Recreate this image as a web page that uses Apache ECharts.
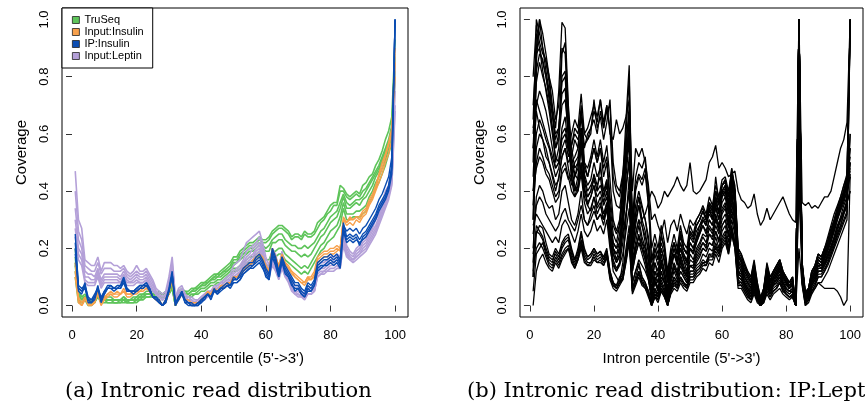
<!DOCTYPE html>
<html>
<head>
<meta charset="utf-8">
<script src="https://cdn.jsdelivr.net/npm/echarts@6/dist/echarts.min.js"></script>
<style>
html,body{margin:0;padding:0;background:#fff;}
#chart{width:865px;height:419px;}
</style>
</head>
<body>
<div id="chart"></div>
<script>
// ---- x categories (intron percentile) ----
const percentiles = [1,2,3,4,5,6,7,8,9,10,11,12,13,14,15,16,17,18,19,20,21,22,23,24,25,26,27,28,29,30,31,32,33,34,35,36,37,38,39,40,41,42,43,44,45,46,47,48,49,50,51,52,53,54,55,56,57,58,59,60,61,62,63,64,65,66,67,68,69,70,71,72,73,74,75,76,77,78,79,80,81,82,83,84,85,86,87,88,89,90,91,92,93,94,95,96,97,98,99,100];
const xTicks = [0,20,40,60,80,100];
const yTicks = [0,0.2,0.4,0.6,0.8,1.0];

// ---- panel (a): TruSeq ----
const truseq1 = [.2,.05,.03,.04,.02,.02,.02,.05,.02,.03, .03,.03,.02,.02,.02,.03,.02,.02,.03,.03, .04,.04,.05,.05,.05,.04,.05,.04,.05,.06, .08,.01,.05,.06,.05,.05,.06,.06,.07,.08, .08,.09,.1,.11,.11,.12,.13,.14,.15,.17, .17,.19,.2,.21,.22,.22,.23,.24,.23,.23, .24,.26,.27,.28,.28,.27,.26,.24,.25,.25, .24,.26,.25,.25,.26,.29,.3,.31,.33,.35, .36,.36,.42,.41,.39,.38,.39,.4,.39,.42, .43,.45,.46,.49,.51,.54,.58,.61,.66,.93];
const truseq2 = [.17,.04,.03,.03,.02,.01,.02,.05,.02,.03, .02,.02,.02,.02,.02,.03,.02,.02,.02,.03, .03,.04,.04,.04,.05,.04,.04,.04,.04,.05, .07,.01,.04,.05,.05,.04,.05,.06,.06,.07, .08,.08,.09,.1,.11,.11,.12,.13,.14,.16, .16,.18,.19,.2,.21,.21,.22,.23,.22,.22, .23,.25,.26,.27,.27,.26,.25,.23,.24,.24, .23,.25,.24,.24,.25,.27,.29,.3,.32,.33, .35,.35,.4,.4,.38,.37,.38,.39,.38,.4, .41,.43,.45,.47,.49,.52,.55,.58,.63,.88];
const truseq3 = [.15,.04,.02,.03,.02,.01,.02,.05,.02,.02, .02,.02,.02,.02,.02,.02,.02,.02,.02,.02, .03,.03,.04,.04,.04,.04,.04,.04,.04,.05, .07,.01,.04,.05,.04,.04,.05,.05,.06,.07, .07,.08,.09,.1,.1,.11,.12,.12,.13,.15, .15,.17,.18,.19,.2,.2,.21,.22,.21,.2, .21,.23,.24,.25,.25,.23,.22,.21,.21,.2, .2,.21,.2,.21,.22,.24,.26,.27,.29,.31, .32,.33,.36,.39,.36,.35,.36,.37,.37,.38, .4,.42,.44,.46,.48,.51,.54,.57,.62,.87];
const truseq4 = [.14,.03,.02,.03,.01,.01,.02,.04,.01,.02, .02,.02,.01,.01,.02,.02,.01,.02,.02,.02, .03,.03,.04,.04,.04,.04,.04,.03,.04,.05, .07,0,.04,.05,.04,.04,.05,.05,.06,.07, .07,.08,.09,.09,.1,.1,.11,.12,.13,.14, .15,.16,.17,.18,.19,.19,.2,.21,.2,.19, .19,.22,.22,.23,.23,.21,.2,.19,.19,.18, .17,.18,.17,.18,.2,.22,.24,.25,.27,.29, .3,.31,.34,.38,.34,.34,.35,.36,.35,.37, .38,.4,.42,.45,.47,.5,.53,.56,.61,.85];
const truseq5 = [.12,.02,.01,.02,.01,.01,.01,.04,.01,.02, .01,.01,.01,.01,.01,.02,.01,.01,.01,.02, .02,.03,.03,.03,.04,.03,.03,.03,.03,.04, .06,0,.03,.04,.03,.03,.04,.04,.05,.06, .06,.07,.08,.08,.09,.09,.1,.11,.12,.13, .13,.14,.15,.16,.17,.17,.18,.19,.17,.16, .16,.19,.19,.2,.2,.18,.17,.16,.15,.14, .13,.14,.13,.15,.17,.19,.21,.22,.24,.26, .27,.28,.31,.36,.32,.32,.32,.33,.33,.34, .35,.38,.4,.43,.45,.48,.51,.55,.59,.82];
const truseq6 = [.1,.01,.01,.02,0,0,.01,.03,.01,.01, .01,.01,.01,.01,.01,.01,.01,.01,.01,.01, .02,.02,.03,.03,.03,.03,.03,.02,.03,.04, .06,0,.03,.04,.03,.03,.03,.04,.04,.05, .05,.06,.07,.07,.08,.08,.09,.1,.11,.12, .12,.13,.14,.15,.15,.16,.17,.17,.16,.14, .14,.17,.17,.18,.18,.16,.15,.14,.13,.12, .11,.12,.11,.13,.15,.17,.19,.2,.22,.23, .24,.26,.28,.34,.3,.3,.31,.31,.31,.32, .33,.36,.38,.41,.43,.46,.49,.53,.57,.8];

// ---- panel (a): Input:Leptin ----
const leptin1 = [.47,.3,.27,.16,.15,.14,.14,.17,.12,.15, .15,.15,.14,.14,.13,.14,.12,.11,.12,.14, .12,.12,.13,.11,.09,.06,.05,.04,.05,.1, .17,.03,.06,.07,.04,.03,.03,.02,.02,.03, .04,.05,.05,.07,.07,.08,.09,.1,.11,.14, .15,.16,.19,.22,.23,.24,.25,.26,.22,.17, .14,.2,.18,.13,.19,.14,.12,.09,.07,.07, .05,.04,.06,.06,.07,.14,.15,.15,.16,.17, .17,.18,.17,.27,.21,.19,.18,.2,.21,.23, .24,.26,.28,.31,.34,.36,.4,.42,.48,.9];
const leptin2 = [.4,.26,.23,.14,.13,.12,.12,.15,.11,.13, .13,.13,.12,.12,.12,.13,.11,.1,.11,.12, .11,.11,.12,.1,.08,.05,.04,.03,.04,.09, .15,.02,.05,.06,.03,.03,.02,.01,.02,.03, .04,.05,.05,.06,.07,.08,.08,.09,.1,.12, .13,.14,.16,.19,.2,.21,.22,.24,.2,.15, .13,.18,.16,.12,.17,.13,.11,.08,.06,.06, .04,.04,.05,.05,.06,.13,.14,.14,.15,.16, .16,.17,.16,.25,.2,.18,.17,.19,.2,.22, .23,.25,.27,.3,.32,.35,.38,.41,.46,.85];
const leptin3 = [.34,.23,.2,.12,.11,.11,.1,.13,.09,.11, .11,.11,.11,.11,.1,.12,.1,.09,.1,.11, .1,.1,.11,.09,.07,.05,.04,.03,.04,.08, .14,.02,.05,.05,.03,.02,.02,.01,.01,.02, .03,.04,.05,.06,.06,.07,.08,.09,.09,.11, .12,.13,.15,.17,.18,.2,.21,.22,.19,.14, .12,.17,.15,.11,.16,.12,.1,.07,.05,.05, .04,.03,.04,.04,.05,.12,.13,.13,.14,.15, .15,.16,.15,.24,.19,.17,.16,.18,.19,.21, .22,.24,.26,.28,.31,.34,.37,.4,.45,.8];
const leptin4 = [.3,.2,.18,.1,.1,.09,.09,.12,.08,.1, .1,.1,.1,.1,.09,.11,.09,.08,.09,.1, .09,.09,.1,.08,.06,.04,.03,.02,.03,.07, .13,.01,.04,.05,.03,.02,.01,.01,.01,.02, .03,.04,.04,.05,.06,.07,.07,.08,.09,.1, .11,.12,.14,.16,.17,.18,.2,.21,.18,.13, .11,.16,.14,.1,.15,.11,.09,.06,.05,.04, .03,.03,.04,.04,.05,.11,.12,.12,.13,.14, .14,.15,.14,.23,.18,.17,.16,.17,.18,.2, .21,.23,.25,.27,.3,.33,.36,.39,.44,.75];
const leptin5 = [.27,.18,.16,.09,.08,.08,.08,.11,.07,.09, .09,.09,.09,.09,.08,.1,.08,.08,.08,.09, .08,.08,.09,.07,.05,.04,.03,.02,.03,.06, .12,.01,.04,.04,.02,.02,.01,.01,.01,.02, .03,.04,.04,.05,.05,.06,.07,.08,.08,.1, .1,.12,.13,.15,.16,.17,.19,.2,.17,.13, .11,.15,.13,.1,.14,.1,.09,.06,.04,.04, .03,.03,.04,.04,.05,.1,.11,.12,.12,.13, .13,.14,.13,.22,.18,.16,.16,.17,.18,.19, .2,.22,.24,.26,.29,.32,.35,.38,.43,.7];
const leptin6 = [.24,.16,.14,.08,.07,.07,.07,.1,.06,.08, .08,.08,.08,.08,.08,.09,.07,.07,.07,.08, .08,.08,.09,.07,.05,.04,.03,.02,.03,.06, .11,.01,.03,.04,.02,.01,.01,0,.01,.02, .02,.03,.04,.05,.05,.06,.06,.07,.08,.09, .1,.11,.13,.14,.15,.16,.18,.19,.16,.12, .1,.14,.12,.09,.13,.1,.08,.05,.04,.03, .03,.02,.04,.04,.05,.1,.11,.11,.12,.12, .12,.13,.13,.21,.17,.16,.15,.16,.17,.18, .19,.21,.23,.25,.28,.31,.34,.37,.42,.68];

// ---- panel (a): Input:Insulin ----
const inputIns1 = [.12,.02,0,.02,.01,0,.01,.05,.01,.02, .04,.05,.04,.04,.04,.05,.04,.04,.05,.05, .05,.06,.07,.05,.03,.02,.02,0,.02,.05, .1,0,.02,.04,.02,.02,.01,.01,.01,.02, .03,.05,.04,.06,.05,.06,.07,.08,.08,.1, .1,.11,.13,.14,.15,.15,.17,.18,.17,.14, .12,.2,.17,.14,.18,.15,.14,.12,.11,.1, .09,.08,.1,.09,.11,.16,.17,.18,.18,.19, .19,.2,.19,.31,.29,.3,.3,.31,.3,.32, .33,.36,.38,.41,.45,.48,.52,.56,.6,.85];
const inputIns2 = [.15,.03,.01,.03,0,0,.01,.04,0,.02, .03,.04,.03,.03,.04,.05,.03,.03,.04,.04, .05,.05,.06,.05,.03,.02,.01,0,.01,.04, .09,.01,.02,.04,.02,.01,.01,0,.01,.02, .03,.04,.04,.05,.05,.06,.06,.07,.08,.09, .1,.1,.12,.13,.14,.15,.16,.17,.16,.13, .11,.19,.16,.13,.17,.14,.13,.11,.1,.09, .08,.07,.09,.09,.1,.15,.16,.17,.17,.18, .18,.19,.2,.3,.28,.29,.28,.3,.29,.31, .32,.35,.37,.4,.43,.46,.5,.53,.58,.9];
const inputIns3 = [.1,.01,0,.02,.01,0,.02,.05,.01,.03, .04,.04,.04,.05,.04,.06,.04,.04,.04,.05, .06,.06,.07,.05,.03,.02,.02,0,.02,.05, .1,0,.03,.04,.02,.01,.01,0,.01,.02, .03,.04,.04,.06,.05,.07,.07,.08,.08,.1, .1,.11,.12,.14,.14,.16,.17,.18,.16,.14, .12,.2,.17,.14,.17,.15,.13,.12,.1,.09, .08,.08,.1,.1,.12,.17,.18,.19,.19,.2, .2,.21,.2,.3,.29,.31,.3,.31,.31,.33, .34,.37,.39,.42,.46,.5,.53,.57,.62,.8];

// ---- panel (a): IP:Insulin ----
const ipIns1 = [.25,.06,.05,.08,.02,.01,.03,.07,.02,.05, .07,.07,.06,.07,.07,.1,.06,.05,.05,.06, .07,.07,.08,.06,.03,.03,.02,0,.02,.06, .12,0,.03,.05,.02,.01,.01,0,0,.02, .03,.04,.03,.06,.04,.06,.06,.07,.07,.09, .09,.1,.12,.13,.14,.14,.16,.17,.15,.12, .1,.19,.16,.11,.17,.13,.11,.09,.07,.07, .05,.04,.07,.06,.08,.14,.15,.16,.16,.17, .16,.17,.15,.29,.24,.25,.24,.25,.23,.25, .26,.28,.3,.32,.35,.37,.39,.42,.49,1];
const ipIns2 = [.22,.07,.06,.07,.03,.02,.04,.06,.03,.05, .06,.06,.06,.06,.06,.08,.05,.05,.05,.05, .06,.07,.07,.05,.03,.02,.01,0,.02,.05, .1,.01,.03,.04,.02,.01,0,0,.01,.02, .03,.04,.03,.05,.05,.06,.06,.07,.07,.08, .08,.09,.11,.12,.13,.13,.14,.15,.13,.11, .09,.17,.14,.1,.15,.11,.1,.07,.06,.06, .04,.03,.06,.05,.07,.12,.13,.14,.14,.15, .14,.15,.13,.26,.22,.23,.22,.23,.22,.23, .24,.26,.28,.3,.33,.35,.37,.4,.46,1];
const ipIns3 = [.2,.05,.04,.07,.01,.01,.02,.06,.01,.04, .06,.07,.06,.06,.07,.09,.06,.05,.05,.06, .07,.07,.08,.06,.03,.03,.01,0,.01,.05, .11,0,.02,.05,.01,.01,0,0,0,.01, .03,.04,.03,.05,.05,.06,.07,.08,.07,.1, .09,.11,.13,.14,.15,.15,.17,.18,.16,.13, .11,.2,.17,.12,.17,.14,.12,.1,.08,.08, .06,.05,.08,.07,.09,.15,.16,.17,.17,.18, .17,.18,.16,.28,.26,.27,.26,.27,.25,.27, .28,.3,.32,.34,.37,.39,.42,.45,.52,1];
const ipIns4 = [.18,.06,.05,.06,.02,.02,.03,.06,.02,.04, .06,.06,.05,.06,.06,.09,.05,.05,.04,.05, .06,.06,.07,.06,.03,.02,.01,0,.01,.05, .11,.01,.02,.04,.01,0,0,0,.01,.01, .02,.04,.02,.05,.04,.05,.06,.07,.06,.08, .08,.09,.11,.12,.13,.14,.15,.16,.14,.1, .09,.18,.15,.1,.16,.12,.1,.08,.05,.06, .04,.03,.05,.05,.07,.13,.14,.14,.15,.16, .15,.16,.14,.27,.23,.24,.23,.24,.21,.24, .25,.27,.29,.31,.34,.36,.38,.41,.48,1];

// ---- panel (b): IP:Leptin samples ----
const ipLep1 = [.5,.9,1,.95,.88,.8,.7,.62,.75,.99, .97,.7,.55,.48,.5,.62,.45,.4,.42,.45, .4,.5,.38,.42,.3,.22,.2,.25,.4,.6, .8,.2,.3,.35,.28,.22,.15,.05,.12,.08, .15,.1,.04,.12,.18,.14,.2,.16,.12,.2, .18,.22,.25,.28,.26,.3,.28,.35,.3,.38, .4,.32,.44,.36,.15,.14,.1,.08,.06,.12, .05,0,.04,.1,.06,.1,.12,.14,.1,.08, .06,.08,0,.55,.15,.02,.04,.1,.12,.16, .15,.18,.2,.24,.28,.32,.35,.38,.42,.45];
const ipLep2 = [.3,1,.95,.9,.85,.78,.68,.55,.6,.8, .82,.62,.48,.42,.4,.48,.38,.35,.33,.38, .32,.35,.3,.36,.26,.18,.15,.17,.3,.55, .7,.15,.2,.25,.2,.18,.1,.03,.08,.05, .1,.08,.02,.1,.14,.1,.16,.12,.1,.14, .14,.18,.2,.22,.2,.25,.24,.3,.26,.32, .34,.28,.38,.3,.12,.12,.08,.06,.05,.08, .04,0,.03,.08,.05,.08,.1,.12,.08,.06, .05,.06,0,1,.12,.02,.03,.08,.1,.14, .13,.15,.18,.2,.24,.28,.3,.33,.36,.4];
const ipLep3 = [.8,.98,.92,.88,.86,.8,.75,.65,.7,.9, .88,.65,.5,.52,.55,.7,.5,.45,.5,.55, .5,.55,.45,.5,.35,.25,.22,.28,.45,.65, .84,.25,.32,.38,.3,.26,.18,.08,.15,.1, .18,.12,.05,.15,.2,.16,.22,.18,.15,.22, .2,.24,.28,.3,.28,.34,.3,.38,.32,.4, .42,.34,.46,.38,.18,.15,.12,.1,.08,.14, .06,.02,.05,.14,.08,.12,.14,.16,.12,.1, .08,.1,0,.45,.14,.04,.06,.12,.14,.18, .17,.2,.24,.28,.32,.35,.38,.42,.45,1];
const ipLep4 = [.6,.78,.85,.8,.76,.7,.62,.55,.58,.7, .72,.6,.5,.45,.48,.58,.46,.42,.44,.5, .45,.48,.4,.44,.32,.2,.18,.22,.35,.5, .62,.18,.25,.3,.24,.2,.12,.04,.1,.06, .12,.08,.03,.1,.15,.12,.18,.14,.11,.18, .16,.2,.22,.25,.24,.28,.26,.32,.28,.34, .36,.3,.4,.32,.14,.12,.09,.07,.05,.1, .04,.01,.04,.1,.06,.09,.1,.13,.09,.07, .06,.07,0,1,.13,.03,.04,.09,.11,.15, .14,.17,.2,.23,.26,.3,.33,.36,.4,.6];
const ipLep5 = [.7,.88,.9,.82,.75,.68,.6,.52,.5,.62, .66,.55,.48,.4,.42,.5,.4,.36,.38,.42, .38,.4,.35,.38,.28,.18,.15,.18,.3,.45, .58,.14,.2,.24,.2,.16,.1,.02,.06,.03, .08,.05,.01,.07,.1,.08,.12,.1,.08,.12, .12,.15,.17,.2,.19,.22,.21,.26,.23,.28, .3,.25,.34,.27,.1,.09,.07,.05,.03,.07, .03,0,.02,.07,.04,.07,.08,.1,.07,.05, .04,.05,0,1,.1,.01,.02,.07,.09,.12, .12,.14,.16,.19,.22,.25,.28,.32,.35,.5];
const ipLep6 = [.4,.6,.65,.62,.58,.55,.5,.45,.48,.55, .58,.52,.56,.6,.58,.62,.55,.6,.62,.65, .6,.68,.62,.7,.6,.58,.65,.6,.62,.66, .72,.4,.55,.52,.55,.5,.42,.3,.32,.28, .25,.3,.22,.28,.3,.26,.32,.28,.25,.3, .28,.3,.32,.34,.3,.36,.34,.38,.35,.4, .42,.36,.48,.4,.2,.18,.14,.12,.1,.16, .08,.03,.06,.15,.1,.12,.14,.16,.12,.1, .08,.1,0,.5,.15,.05,.06,.12,.14,.18, .17,.2,.22,.26,.3,.34,.37,.4,.44,1];
const ipLep7 = [.35,.5,.55,.52,.48,.46,.42,.38,.4,.48, .5,.45,.4,.38,.42,.5,.4,.38,.4,.44, .4,.42,.38,.44,.3,.22,.2,.22,.3,.42, .5,.2,.25,.3,.28,.24,.2,.08,.15,.12, .2,.15,.08,.18,.22,.18,.25,.2,.18,.26, .24,.28,.3,.33,.3,.35,.33,.4,.36,.42, .44,.38,.48,.4,.18,.16,.12,.1,.08,.12, .06,.01,.05,.12,.08,.1,.12,.14,.11,.09, .07,.08,0,1,.14,.03,.05,.1,.12,.16, .15,.18,.21,.24,.28,.32,.35,.38,.42,.5];
const ipLep8 = [.2,.38,.42,.4,.36,.34,.35,.3,.32,.4, .42,.36,.3,.28,.32,.4,.3,.28,.32,.35, .3,.32,.28,.34,.22,.15,.12,.15,.22,.32, .4,.12,.18,.22,.2,.16,.12,.04,.1,.08, .14,.1,.04,.14,.18,.15,.2,.16,.14,.2, .18,.22,.25,.28,.25,.3,.28,.34,.3,.36, .38,.32,.42,.35,.15,.13,.1,.08,.06,.1, .04,0,.04,.1,.07,.09,.11,.13,.1,.08, .06,.07,0,1,.12,.02,.04,.09,.11,.14, .14,.17,.2,.23,.27,.31,.34,.37,.4,.45];
const ipLep9 = [.1,.25,.28,.27,.22,.18,.17,.2,.18,.22, .24,.25,.2,.16,.2,.26,.2,.17,.18,.2, .18,.19,.17,.2,.12,.08,.07,.1,.12,.2, .28,.06,.1,.14,.1,.08,.05,.01,.05,.03, .07,.05,.01,.06,.1,.08,.12,.1,.08,.12, .12,.14,.15,.18,.17,.2,.19,.24,.2,.26, .28,.22,.3,.25,.1,.09,.07,.05,.03,.07, .03,0,.02,.07,.05,.07,.08,.1,.07,.05, .04,.05,0,1,.1,.01,.02,.07,.09,.12, .12,.14,.17,.2,.23,.26,.3,.33,.36,.4];
const ipLep10 = [.05,.18,.2,.22,.18,.15,.14,.17,.15,.18, .2,.21,.17,.14,.17,.22,.17,.15,.15,.18, .16,.17,.15,.18,.1,.07,.06,.08,.1,.18, .25,.05,.08,.12,.08,.07,.04,0,.04,.02, .06,.04,0,.05,.08,.07,.1,.08,.07,.1, .1,.12,.13,.15,.15,.18,.17,.21,.18,.23, .25,.2,.27,.22,.08,.08,.06,.04,.02,.06, .02,0,.02,.06,.04,.06,.07,.09,.06,.04, .03,.04,0,1,.09,.01,.02,.06,.08,.11, .11,.13,.15,.18,.21,.24,.27,.3,.33,.98];
const ipLep11 = [0,.12,.16,.18,.15,.13,.12,.15,.13,.16, .18,.2,.15,.13,.16,.2,.15,.14,.14,.16, .15,.15,.14,.17,.09,.06,.05,.07,.09,.15, .22,.04,.07,.1,.07,.06,.03,0,.03,.02, .05,.03,0,.05,.07,.06,.09,.07,.06,.09, .09,.11,.12,.14,.14,.16,.16,.19,.17,.21, .23,.18,.25,.2,.07,.07,.05,.03,.02,.05, .02,0,.02,.05,.03,.05,.06,.08,.05,.04, .03,.03,0,1,.08,0,.02,.05,.07,.1, .1,.12,.14,.17,.2,.23,.26,.29,.32,1];
const ipLep12 = [.25,.35,.38,.36,.32,.3,.28,.26,.28,.32, .34,.3,.28,.26,.3,.35,.3,.28,.3,.33, .3,.32,.3,.34,.26,.2,.18,.2,.25,.32, .4,.2,.28,.35,.3,.32,.36,.4,.38,.34, .36,.4,.38,.4,.42,.45,.42,.4,.42,.5, .4,.39,.4,.42,.44,.5,.52,.56,.48,.5, .48,.45,.46,.47,.4,.37,.36,.34,.35,.39, .32,.28,.3,.34,.3,.32,.34,.36,.38,.35, .32,.3,.29,1,.36,.35,.36,.34,.35,.34, .36,.38,.38,.4,.45,.5,.55,.58,.64,1];
const ipLep13 = [.15,.28,.26,.24,.2,.17,.16,.18,.16,.2, .22,.23,.18,.15,.18,.23,.18,.16,.17,.19, .17,.18,.16,.19,.11,.08,.07,.09,.11,.18, .25,.06,.09,.12,.09,.07,.05,.01,.04,.03, .06,.04,.01,.06,.09,.07,.1,.08,.07,.11, .11,.13,.14,.16,.15,.18,.18,.22,.19,.24, .26,.2,.28,.22,.09,.08,.06,.04,.02,.05, .02,0,.02,.06,.04,.05,.06,.08,.06,.04, .03,.04,0,1,.08,.01,.02,.05,.06,.08, .07,.06,.06,.06,.06,.05,.03,0,.02,.46];
const ipLep14 = [.45,.7,.75,.72,.68,.62,.55,.48,.5,.6, .62,.55,.6,.65,.62,.74,.6,.58,.62,.68, .64,.72,.62,.68,.7,.45,.4,.38,.45,.55, .6,.3,.45,.5,.48,.52,.4,.2,.25,.2, .28,.22,.12,.2,.25,.2,.28,.22,.2,.28, .25,.3,.32,.35,.32,.38,.35,.42,.38,.44, .45,.4,.47,.42,.2,.18,.15,.12,.1,.15, .08,.02,.06,.14,.1,.12,.14,.16,.12,.1, .08,.1,0,1,.15,.04,.06,.12,.14,.18, .17,.2,.23,.27,.3,.34,.38,.42,.46,.55];
const ipLep15 = [.1,.85,1,.9,.82,.75,.68,.58,.62,.78, .8,.6,.45,.4,.45,.55,.42,.35,.38,.42, .35,.38,.32,.36,.22,.12,.1,.08,.15,.3, .45,.08,.12,.15,.1,.08,.05,0,.03,.01, .05,.03,0,.04,.06,.05,.08,.06,.05,.08, .08,.1,.11,.13,.12,.15,.14,.18,.15,.2, .22,.18,.25,.2,.06,.06,.04,.02,.01,.04, .01,0,.01,.04,.02,.04,.05,.06,.04,.03, .02,.03,0,.2,.07,0,.01,.04,.06,.08, .08,.1,.12,.15,.18,.21,.24,.27,.3,1];
const ipLep16 = [.55,.68,.62,.58,.55,.5,.45,.4,.45,.52, .55,.48,.42,.45,.5,.58,.48,.45,.5,.55, .5,.55,.48,.52,.38,.28,.25,.28,.38,.5, .6,.25,.35,.4,.35,.3,.22,.1,.18,.14, .2,.16,.08,.16,.2,.16,.22,.18,.16,.22, .2,.24,.26,.3,.28,.32,.3,.36,.32,.38, .4,.34,.42,.36,.16,.14,.11,.09,.07,.11, .05,.01,.04,.11,.07,.09,.11,.13,.1,.08, .06,.08,0,.4,.12,.02,.04,.09,.11,.15, .14,.17,.2,.23,.27,.31,.35,.4,.45,1];
const ipLep17 = [.65,.95,.9,.85,.8,.72,.62,.5,.55,.88, .92,.68,.52,.46,.44,.56,.44,.38,.4,.46, .42,.45,.36,.4,.28,.2,.16,.2,.32,.5, .66,.16,.22,.28,.22,.18,.12,.03,.09,.05, .12,.08,.02,.09,.14,.11,.17,.13,.1,.16, .15,.19,.21,.24,.22,.27,.25,.31,.27,.33, .35,.29,.39,.31,.12,.11,.08,.06,.04,.09, .03,0,.03,.09,.05,.08,.09,.11,.08,.06, .05,.06,0,1,.11,.02,.03,.08,.1,.13, .13,.15,.18,.21,.24,.28,.31,.35,.38,.55];
const ipLep18 = [.55,.82,.88,.86,.8,.74,.66,.6,.62,.74, .76,.58,.44,.38,.4,.46,.36,.32,.34,.38, .34,.36,.3,.34,.24,.16,.13,.15,.26,.4, .52,.12,.18,.22,.18,.14,.09,.02,.06,.04, .09,.06,.01,.08,.12,.09,.14,.11,.09,.14, .13,.17,.19,.22,.21,.25,.23,.28,.25,.3, .32,.27,.36,.29,.11,.1,.07,.05,.03,.08, .03,0,.02,.08,.05,.07,.09,.11,.08,.06, .05,.05,0,1,.11,.01,.03,.07,.09,.12, .12,.15,.17,.2,.23,.27,.3,.33,.37,.6];
const ipLep19 = [.3,.55,.6,.58,.52,.5,.46,.42,.44,.52, .55,.5,.52,.58,.55,.66,.56,.58,.6,.72, .62,.66,.58,.64,.72,.5,.42,.4,.46,.58, .66,.28,.42,.46,.44,.48,.36,.15,.2,.16, .24,.2,.1,.18,.22,.18,.26,.2,.18,.25, .23,.28,.3,.33,.3,.35,.33,.4,.36,.42, .43,.38,.45,.4,.18,.16,.13,.11,.09,.13, .07,.02,.05,.13,.09,.11,.13,.15,.11,.09, .07,.09,0,.6,.14,.04,.05,.11,.13,.17, .16,.19,.22,.25,.29,.33,.36,.4,.43,1];
const ipLep20 = [.4,.48,.52,.5,.46,.44,.4,.36,.38,.46, .48,.44,.46,.5,.52,.6,.5,.48,.52,.58, .52,.58,.5,.56,.44,.3,.26,.3,.4,.52, .58,.22,.32,.38,.34,.3,.24,.12,.2,.16, .22,.18,.1,.18,.22,.18,.24,.2,.18,.24, .22,.26,.28,.31,.29,.33,.31,.37,.33,.39, .41,.35,.44,.37,.17,.15,.12,.1,.08,.12, .06,.02,.05,.12,.08,.1,.12,.14,.1,.08, .06,.08,0,1,.13,.03,.05,.1,.12,.16, .15,.18,.21,.24,.28,.32,.35,.39,.42,.5];
const ipLep21 = [.18,.26,.25,.23,.19,.16,.15,.19,.17,.21, .23,.24,.19,.16,.19,.25,.19,.17,.18,.2, .18,.19,.16,.19,.12,.08,.06,.08,.1,.16, .24,.08,.12,.16,.14,.12,.09,.04,.08,.06, .1,.08,.04,.1,.13,.11,.15,.12,.1,.14, .13,.16,.18,.2,.19,.22,.21,.26,.22,.28, .3,.24,.32,.27,.12,.1,.08,.06,.04,.08, .04,0,.03,.08,.06,.08,.09,.11,.08,.06, .05,.05,0,1,.11,.02,.03,.08,.1,.13, .13,.16,.19,.22,.26,.3,.34,.38,.42,.47];
const ipLep22 = [.12,.2,.22,.2,.17,.14,.13,.16,.14,.17, .19,.2,.16,.13,.16,.21,.16,.14,.15,.17, .15,.16,.14,.17,.1,.07,.06,.08,.09,.16, .23,.05,.08,.11,.08,.06,.04,0,.03,.02, .06,.04,0,.05,.08,.06,.1,.08,.06,.1, .1,.12,.13,.15,.14,.17,.17,.2,.18,.22, .24,.19,.26,.21,.08,.07,.05,.03,.02,.05, .02,0,.01,.05,.03,.05,.06,.08,.05,.04, .03,.03,0,.7,.08,.01,.02,.05,.07,.1, .1,.12,.15,.18,.21,.25,.28,.32,.35,1];
const ipLep23 = [.28,.32,.3,.28,.26,.24,.22,.24,.22,.28, .3,.28,.25,.22,.26,.32,.26,.24,.26,.3, .26,.28,.25,.3,.2,.14,.12,.14,.18,.26, .34,.14,.2,.24,.22,.2,.16,.06,.12,.1, .16,.12,.06,.14,.18,.15,.2,.17,.15,.2, .19,.23,.26,.3,.28,.34,.32,.45,.36,.4, .38,.33,.42,.36,.14,.12,.1,.08,.06,.1, .05,.01,.04,.1,.07,.09,.11,.13,.1,.08, .06,.07,0,1,.12,.02,.04,.09,.11,.14, .14,.17,.2,.23,.27,.31,.34,.38,.42,.48];
const ipLep24 = [.62,.72,.68,.64,.6,.56,.52,.48,.5,.58, .6,.54,.56,.62,.6,.68,.6,.62,.66,.7, .66,.72,.64,.7,.62,.4,.35,.34,.42,.52, .58,.26,.4,.45,.42,.46,.35,.16,.22,.18, .25,.2,.1,.18,.22,.18,.26,.2,.18,.26, .24,.28,.3,.33,.31,.36,.34,.4,.36,.42, .44,.38,.46,.4,.19,.17,.14,.11,.09,.14, .07,.02,.06,.13,.09,.11,.13,.15,.11,.09, .07,.09,0,1,.14,.04,.06,.11,.13,.17, .16,.19,.22,.26,.29,.33,.36,.4,.44,.52];

// ---- groups & legend ----
const legendNames = ['TruSeq','Input:Insulin','IP:Insulin','Input:Leptin'];
const legendColors = ['#5ec45a','#f7a04b','#0b4db2','#b4a0d8'];
const groupsA = [
  {name:'TruSeq', color:'#5ec45a', width:1.6, lines:[truseq1,truseq2,truseq3,truseq4,truseq5,truseq6]},
  {name:'Input:Leptin', color:'#b4a0d8', width:1.6, lines:[leptin1,leptin2,leptin3,leptin4,leptin5,leptin6]},
  {name:'Input:Insulin', color:'#f7a04b', width:1.4, lines:[inputIns1,inputIns2,inputIns3]},
  {name:'IP:Insulin', color:'#0b4db2', width:1.4, lines:[ipIns1,ipIns2,ipIns3,ipIns4]}
];
const linesB = [ipLep1,ipLep2,ipLep3,ipLep4,ipLep5,ipLep6,ipLep7,ipLep8,ipLep9,ipLep10,ipLep11,ipLep12,ipLep13,ipLep14,ipLep15,ipLep16,ipLep17,ipLep18,ipLep19,ipLep20,ipLep21,ipLep22,ipLep23,ipLep24];

const series = [];
groupsA.forEach(g => g.lines.forEach(arr => {
  if (arr.length !== percentiles.length) throw new Error(g.name + ' length ' + arr.length);
  series.push({type:'line', name:g.name, xAxisIndex:0, yAxisIndex:0, symbol:'none', silent:true,
    data: percentiles.map((p,i)=>[p,arr[i]]), lineStyle:{color:g.color, width:g.width}, itemStyle:{color:g.color}});
}));
linesB.forEach((arr,k) => {
  if (arr.length !== percentiles.length) throw new Error('ipLep' + (k+1) + ' length ' + arr.length);
  series.push({type:'line', name:'IP:Leptin ' + (k+1), xAxisIndex:1, yAxisIndex:1, symbol:'none', silent:true,
    data: percentiles.map((p,i)=>[p,arr[i]]), lineStyle:{color:'#000', width:1.3}, itemStyle:{color:'#000'}});
});

const FONT = '"Liberation Sans", Arial, Helvetica, sans-serif';
function mkX(gi){
  return {type:'value', gridIndex:gi, min:-3.1, max:104,
    splitLine:{show:false}, axisLine:{show:false},
    axisTick:{show:true, customValues:xTicks, length:6, lineStyle:{color:'#333', width:1}},
    axisLabel:{customValues:xTicks, fontSize:13, color:'#000', margin:12, fontFamily:FONT},
    name:"Intron percentile (5'->3')", nameLocation:'middle', nameGap:34,
    nameTextStyle:{fontSize:15, color:'#000', fontFamily:FONT, padding:[0,20,0,0]}};
}
function mkY(gi){
  return {type:'value', gridIndex:gi, min:-0.04, max:1.04,
    splitLine:{show:false}, axisLine:{show:false},
    axisTick:{show:true, customValues:yTicks, length:6, lineStyle:{color:'#333', width:1}},
    axisLabel:{customValues:yTicks, fontSize:13, color:'#000', margin:11, rotate:90, fontFamily:FONT,
      formatter: v => Number(v).toFixed(1)},
    name:'Coverage', nameLocation:'middle', nameGap:33, nameRotate:90,
    nameTextStyle:{fontSize:15, color:'#000', fontFamily:FONT, padding:[0,0,0,20]}};
}

const chart = echarts.init(document.getElementById('chart'), null, {renderer:'canvas'});
chart.setOption({
  animation:false,
  backgroundColor:'#ffffff',
  grid:[
    {left:62, top:8, width:346, height:309, show:true, borderColor:'#000', borderWidth:1, backgroundColor:'rgba(0,0,0,0)'},
    {left:520, top:8, width:343, height:309, show:true, borderColor:'#000', borderWidth:1, backgroundColor:'rgba(0,0,0,0)'}
  ],
  xAxis:[mkX(0), mkX(1)],
  yAxis:[mkY(0), mkY(1)],
  legend:{
    left:62, top:8, orient:'vertical', selectedMode:false,
    padding:[6,9,6,10], itemWidth:7, itemHeight:7, itemGap:0,
    borderColor:'#000', borderWidth:1, backgroundColor:'#fff',
    textStyle:{fontSize:11, color:'#000', lineHeight:12, fontFamily:FONT},
    data: legendNames.map((n,i)=>({name:n, icon:'rect', itemStyle:{color:legendColors[i], borderColor:'#222', borderWidth:0.8}}))
  },
  series: series,
  graphic:[
    {type:'text', left:65, top:381, style:{text:'(a) Intronic read distribution', fill:'#000', font:'21px "DejaVu Serif", serif'}},
    {type:'text', left:467, top:381, style:{text:'(b) Intronic read distribution: IP:Leptin', fill:'#000', font:'21px "DejaVu Serif", serif'}}
  ]
});
</script>
</body>
</html>
